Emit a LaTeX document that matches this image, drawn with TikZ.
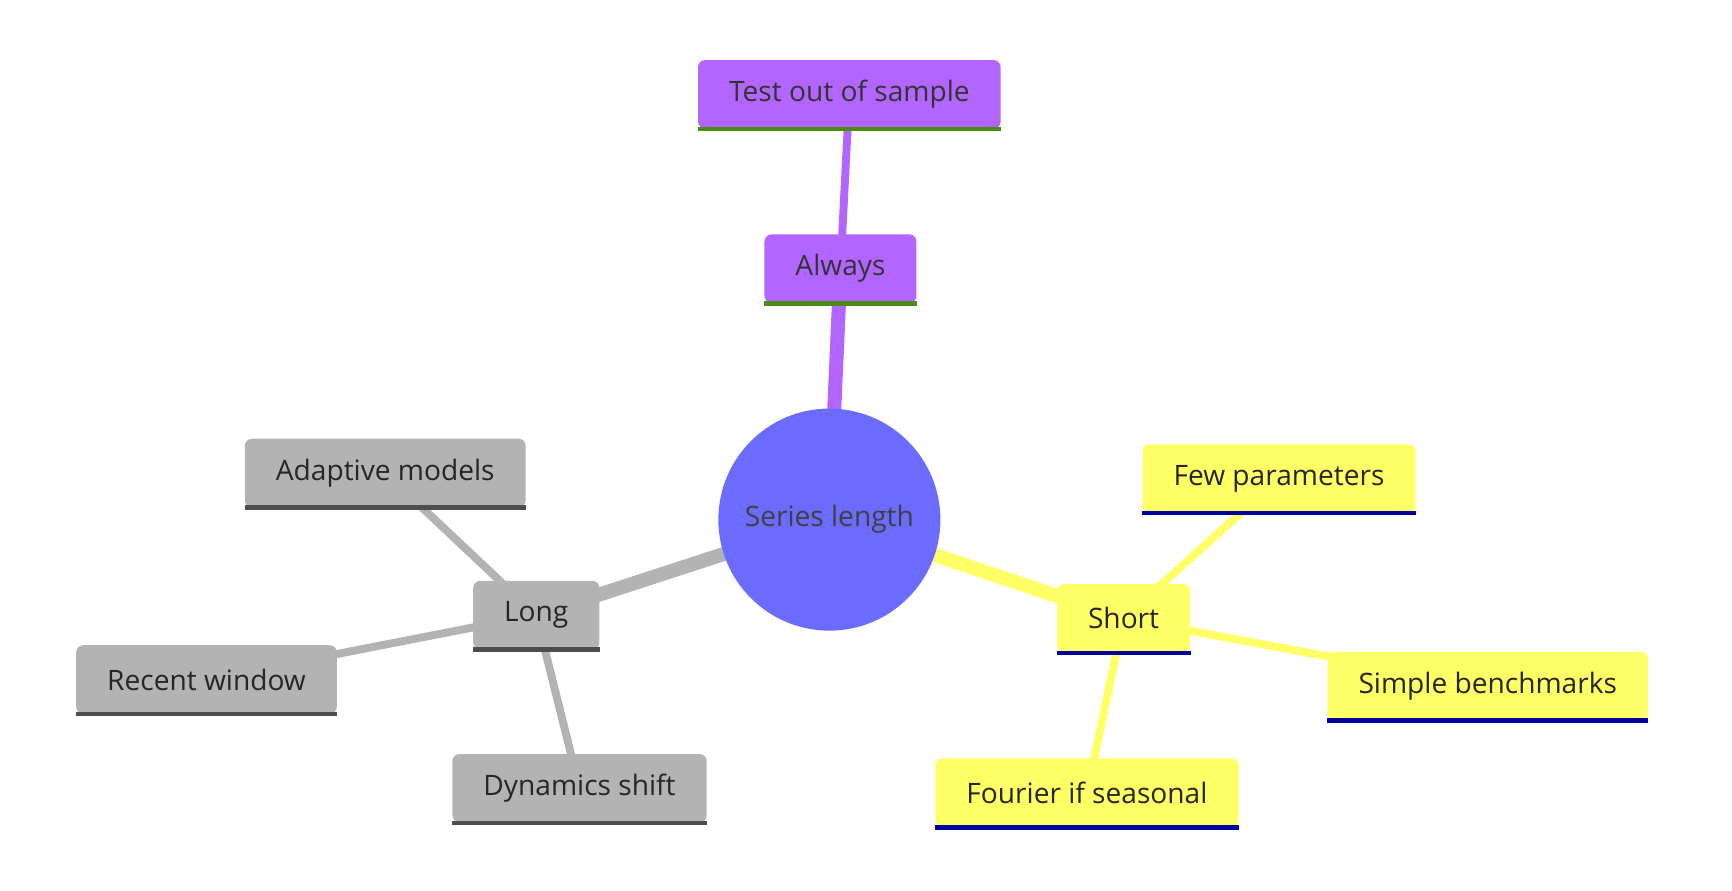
\documentclass[tikz,border=0pt]{standalone}
\usepackage{fontspec}
\setmainfont{Open Sans}
\usetikzlibrary{calc, positioning, backgrounds}

\definecolor{rootblue}{HTML}{6B6BFF}
\definecolor{violet}{HTML}{B266FF}
\definecolor{leafgreen}{HTML}{4A8C0F}
\definecolor{lemon}{HTML}{FFFF66}
\definecolor{navy}{HTML}{0000A0}
\definecolor{ash}{HTML}{B3B3B3}
\definecolor{slate}{HTML}{4D4D4D}

\tikzset{
  box/.style={rectangle, rounded corners=4pt, minimum height=1.37cm, inner xsep=0.62cm,
    font=\fontsize{16}{19}\selectfont, text=black!85},
  purplebox/.style={box, fill=violet, text=black!80},
  yellowbox/.style={box, fill=lemon},
  greybox/.style={box, fill=ash},
  branch/.style={line width=#1},
}

\begin{document}
\begin{tikzpicture}[x=0.0222cm, y=-0.0222cm]

  \useasboundingbox (0,0) rectangle (1560,802);

  % nodes
  \node[circle, fill=rootblue, minimum size=4.44cm, font=\fontsize{16}{19}\selectfont, text=black!75] (root) at (747,468) {Series length};

  \node[purplebox] (always)  at (757,242) {Always};
  \node[purplebox] (test)    at (765,85)  {Test out of sample};

  \node[yellowbox] (short)   at (1012,557) {Short};
  \node[yellowbox] (few)     at (1152,431) {Few parameters};
  \node[yellowbox] (simple)  at (1340,618) {Simple benchmarks};
  \node[yellowbox] (fourier) at (979,714)  {Fourier if seasonal};

  \node[greybox] (long)     at (483,554) {Long};
  \node[greybox] (adaptive) at (347,426) {Adaptive models};
  \node[greybox] (recent)   at (186,612) {Recent window};
  \node[greybox] (dynamics) at (522,710) {Dynamics shift};

  % connectors
  \begin{scope}[on background layer]
    \draw[branch=8pt, violet] (root.center) -- (always.center);
    \draw[branch=4.5pt, violet] (always.center) -- (test.center);
    \draw[branch=8pt, lemon] (root.center) -- (short.center);
    \draw[branch=4.5pt, lemon] (short.center) -- (few.center);
    \draw[branch=4.5pt, lemon] (short.center) -- (simple.center);
    \draw[branch=4.5pt, lemon] (short.center) -- (fourier.center);
    \draw[branch=8pt, ash] (root.center) -- (long.center);
    \draw[branch=4.5pt, ash] (long.center) -- (adaptive.center);
    \draw[branch=4.5pt, ash] (long.center) -- (recent.center);
    \draw[branch=4.5pt, ash] (long.center) -- (dynamics.center);
  \end{scope}

  % underlines
  \foreach \n/\c in {always/leafgreen, test/leafgreen, short/navy, few/navy, simple/navy, fourier/navy,
                     long/slate, adaptive/slate, recent/slate, dynamics/slate}
    \draw[\c, line width=2.6pt] (\n.south west) -- (\n.south east);

\end{tikzpicture}
\end{document}
